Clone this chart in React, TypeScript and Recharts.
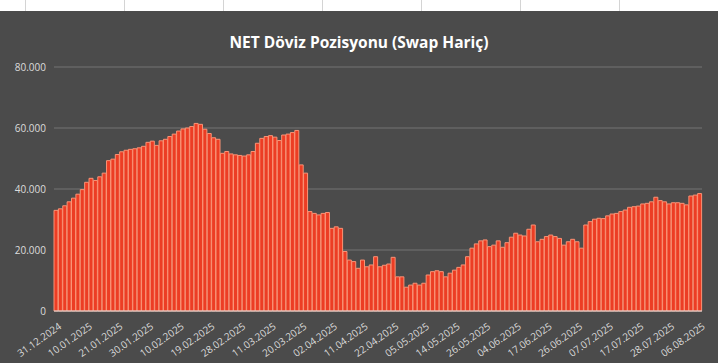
import React from "react";
import { BarChart, Bar, XAxis, YAxis, CartesianGrid } from "recharts";

const dates: string[] = [
  "31.12.2024",
  "02.01.2025", "03.01.2025", "06.01.2025", "07.01.2025", "08.01.2025", "09.01.2025", "10.01.2025", "13.01.2025", "14.01.2025", "15.01.2025", "16.01.2025", "17.01.2025", "20.01.2025", "21.01.2025", "22.01.2025", "23.01.2025", "24.01.2025", "27.01.2025", "28.01.2025", "29.01.2025", "30.01.2025", "31.01.2025",
  "03.02.2025", "04.02.2025", "05.02.2025", "06.02.2025", "07.02.2025", "10.02.2025", "11.02.2025", "12.02.2025", "13.02.2025", "14.02.2025", "17.02.2025", "18.02.2025", "19.02.2025", "20.02.2025", "21.02.2025", "24.02.2025", "25.02.2025", "26.02.2025", "27.02.2025", "28.02.2025",
  "03.03.2025", "04.03.2025", "05.03.2025", "06.03.2025", "07.03.2025", "10.03.2025", "11.03.2025", "12.03.2025", "13.03.2025", "14.03.2025", "17.03.2025", "18.03.2025", "19.03.2025", "20.03.2025", "21.03.2025", "24.03.2025", "25.03.2025", "26.03.2025", "27.03.2025", "28.03.2025",
  "02.04.2025", "03.04.2025", "04.04.2025", "07.04.2025", "08.04.2025", "09.04.2025", "10.04.2025", "11.04.2025", "14.04.2025", "15.04.2025", "16.04.2025", "17.04.2025", "18.04.2025", "21.04.2025", "22.04.2025", "24.04.2025", "25.04.2025", "28.04.2025", "29.04.2025", "30.04.2025",
  "02.05.2025", "05.05.2025", "06.05.2025", "07.05.2025", "08.05.2025", "09.05.2025", "12.05.2025", "13.05.2025", "14.05.2025", "15.05.2025", "16.05.2025", "20.05.2025", "21.05.2025", "22.05.2025", "23.05.2025", "26.05.2025", "27.05.2025", "28.05.2025", "29.05.2025", "30.05.2025",
  "02.06.2025", "03.06.2025", "04.06.2025", "05.06.2025", "10.06.2025", "11.06.2025", "12.06.2025", "13.06.2025", "16.06.2025", "17.06.2025", "18.06.2025", "19.06.2025", "20.06.2025", "23.06.2025", "24.06.2025", "25.06.2025", "26.06.2025", "27.06.2025", "30.06.2025",
  "01.07.2025", "02.07.2025", "03.07.2025", "04.07.2025", "07.07.2025", "08.07.2025", "09.07.2025", "10.07.2025", "11.07.2025", "14.07.2025", "16.07.2025", "17.07.2025", "18.07.2025", "21.07.2025", "22.07.2025", "23.07.2025", "24.07.2025", "25.07.2025", "28.07.2025", "29.07.2025", "30.07.2025", "31.07.2025",
  "01.08.2025", "04.08.2025", "05.08.2025", "06.08.2025",
];

// Net FX position excluding swaps, million USD
const netPosition: number[] = [
  33000, 33500, 34500, 35800, 37000, 38300, 39800, 42200, 43500, 42800,
  44000, 45200, 49300, 49800, 51300, 52200, 52700, 53000, 53200, 53500,
  54000, 55300, 55700, 54300, 55800, 56300, 57200, 58000, 59000, 59700,
  60000, 60500, 61500, 61200, 59600, 58200, 56800, 56300, 51700, 52300,
  51500, 51200, 51000, 50800, 51200, 52300, 55000, 56600, 57200, 57500,
  57000, 55900, 57700, 58000, 58500, 59200, 47900, 45200, 32600, 32000,
  31500, 32000, 32300, 27100, 27600, 27100, 19500, 16700, 16200, 14000,
  16700, 14500, 15100, 17800, 14500, 15000, 15400, 17600, 11200, 11200,
  7800, 8500, 9100, 8500, 9100, 11800, 12900, 13200, 12900, 11200,
  12400, 13400, 14300, 15100, 17800, 20600, 22000, 23000, 23300, 21100,
  21600, 23000, 20900, 22400, 24200, 25500, 24900, 24600, 26800, 28200,
  22700, 23500, 24400, 24900, 24400, 23800, 21600, 22700, 23500, 22700,
  20600, 28200, 29300, 30100, 30400, 30300, 31200, 31800, 32000, 32600,
  33100, 34000, 34200, 34400, 35100, 35300, 35800, 37300, 36200, 35800,
  35100, 35500, 35500, 35300, 34800, 37700, 38000, 38500,
];

const yTicks: number[] = [0, 20000, 40000, 60000, 80000];
const titleText = "NET Döviz Pozisyonu (Swap Hariç)";

const data = dates.map((d, i) => ({ date: d, value: netPosition[i] }));

const fmt = (v: number) =>
  v === 0 ? "0" : String(v).replace(/\B(?=(\d{3})+(?!\d))/g, ".");

const XTick = (props: any) => {
  const { x, y, payload } = props;
  const ax = x + 6;
  const ay = y + 9;
  return (
    <text
      x={ax}
      y={ay}
      textAnchor="end"
      fill="#dcdcdc"
      fontSize={10}
      fontFamily="'Open Sans', sans-serif"
      transform={`rotate(-35, ${ax}, ${ay})`}
    >
      {payload.value}
    </text>
  );
};

export default function App() {
  const stripLines = [25, 124, 223, 322, 421, 520, 619];
  return (
    <div
      style={{
        position: "absolute",
        left: 0,
        top: 0,
        width: 718,
        height: 363,
        background: "#4b4b4b",
        overflow: "hidden",
      }}
    >
      <div
        style={{
          position: "absolute",
          left: 0,
          top: 0,
          width: 718,
          height: 11,
          background: "#ffffff",
        }}
      >
        {stripLines.map((lx) => (
          <div
            key={lx}
            style={{
              position: "absolute",
              left: lx,
              top: 0,
              width: 1,
              height: 11,
              background: "#d4d4d4",
            }}
          />
        ))}
      </div>
      <div
        style={{
          position: "absolute",
          left: 0,
          top: 31,
          width: 718,
          textAlign: "center",
          color: "#ffffff",
          fontFamily: "'Open Sans', sans-serif",
          fontWeight: 700,
          fontSize: 15.5,
          lineHeight: "22px",
        }}
      >
        {titleText}
      </div>
      <div style={{ position: "absolute", left: 0, top: 0 }}>
        <BarChart
          width={718}
          height={363}
          data={data}
          margin={{ top: 67, right: 16, left: 0, bottom: 12 }}
          barCategoryGap={0}
        >
          <CartesianGrid
            vertical={false}
            stroke="#757575"
            strokeWidth={1}
          />
          <XAxis
            dataKey="date"
            interval={6}
            height={40}
            tickLine={false}
            axisLine={{ stroke: "#d9d9d9" }}
            tick={<XTick />}
          />
          <YAxis
            width={54}
            domain={[0, 80000]}
            ticks={yTicks}
            tickFormatter={fmt}
            axisLine={false}
            tickLine={false}
            tick={{
              fill: "#dcdcdc",
              fontSize: 10,
              fontFamily: "'Open Sans', sans-serif",
            }}
          />
          <Bar
            dataKey="value"
            fill="#ec3d24"
            stroke="#fa9376"
            strokeWidth={1}
            isAnimationActive={false}
          />
        </BarChart>
      </div>
    </div>
  );
}
